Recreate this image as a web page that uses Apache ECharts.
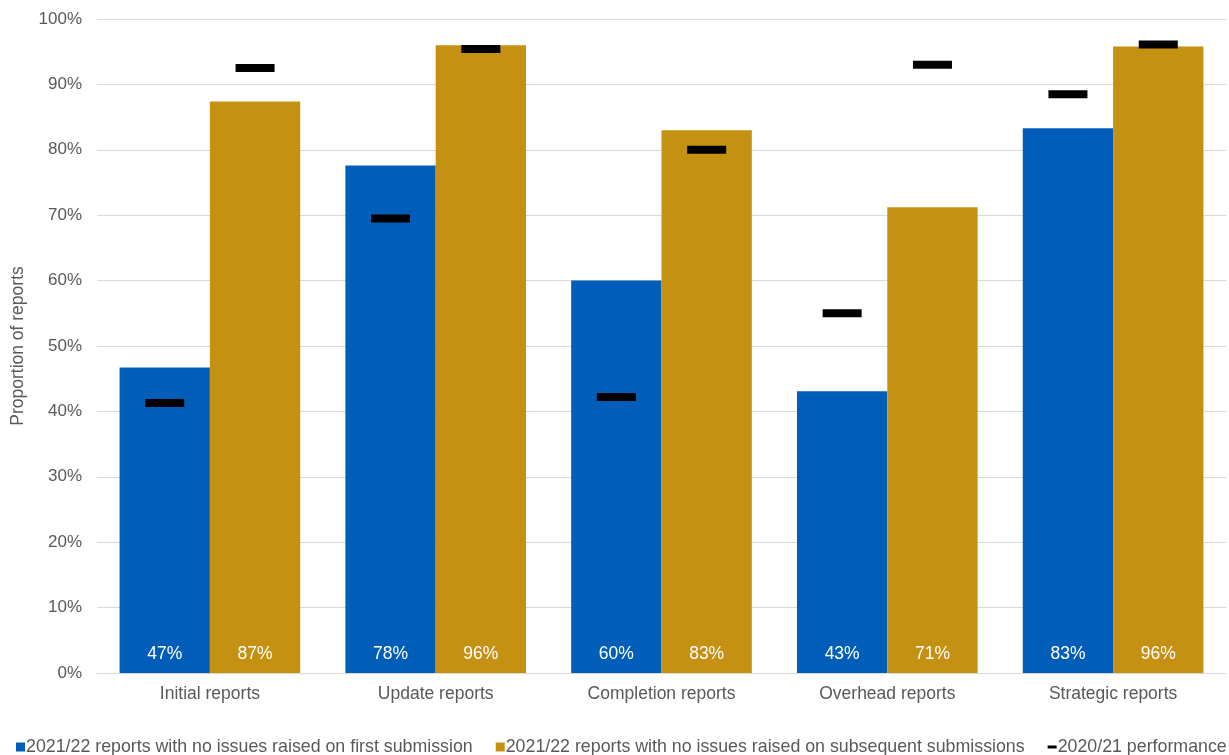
<!DOCTYPE html>
<html>
<head>
<meta charset="utf-8">
<script src="https://cdn.jsdelivr.net/npm/echarts@6/dist/echarts.min.js"></script>
<style>
html,body{margin:0;padding:0;background:#fff;}
#chart{width:1229px;height:755px;}
</style>
</head>
<body>
<div id="chart"></div>
<script>
var categories = ['Initial reports', 'Update reports', 'Completion reports', 'Overhead reports', 'Strategic reports'];
var firstSubmission = [46.7, 77.6, 60.0, 43.1, 83.3];
var subsequentSubmissions = [87.4, 96.0, 83.0, 71.2, 95.8];
var perf2020First = [41.3, 69.5, 42.2, 55.0, 88.5];
var perf2020Subsequent = [92.5, 95.4, 80.0, 93.0, 96.1];
var yTicks = [0, 10, 20, 30, 40, 50, 60, 70, 80, 90, 100];

var seriesNames = [
  '2021/22 reports with no issues raised on first submission',
  '2021/22 reports with no issues raised on subsequent submissions',
  '2020/21 performance'
];

var BLUE = '#005EB8', GOLD = '#C49113', GREY = '#595959';
var CAT_GAP = 0.2;
var FONT = 'Liberation Sans, Arial, sans-serif';

var chart = echarts.init(document.getElementById('chart'), null, {renderer: 'canvas'});

var perfData = categories.map(function (c, i) { return [i, perf2020First[i], perf2020Subsequent[i]]; });

var labelOpt = {
  show: true,
  position: 'insideBottom',
  distance: 10,
  color: '#fff',
  fontSize: 17.5,
  fontFamily: FONT,
  formatter: function (p) { return Math.round(p.value) + '%'; }
};

chart.setOption({
  animation: false,
  textStyle: {fontFamily: FONT},
  grid: {left: 97, right: 3, top: 19, bottom: 82, containLabel: false},
  legend: {
    left: 16,
    top: 738,
    padding: 0,
    itemWidth: 9,
    itemHeight: 9,
    itemGap: 23,
    symbolKeepAspect: true,
    textStyle: {color: GREY, fontSize: 17.8, fontFamily: FONT, padding: [0, 0, 0, -4]},
    data: [
      {name: seriesNames[0], icon: 'rect', itemStyle: {color: BLUE}},
      {name: seriesNames[1], icon: 'rect', itemStyle: {color: GOLD}},
      {name: seriesNames[2], icon: 'path://M0,0h12v4h-12z', itemStyle: {color: '#000'}}
    ]
  },
  xAxis: {
    type: 'category',
    data: categories,
    axisLine: {lineStyle: {color: '#d9d9d9', width: 1}},
    axisTick: {show: false},
    axisLabel: {color: GREY, fontSize: 17.5, margin: 12}
  },
  yAxis: {
    type: 'value',
    min: yTicks[0],
    max: yTicks[yTicks.length - 1],
    interval: 10,
    name: 'Proportion of reports',
    nameLocation: 'middle',
    nameGap: 68,
    nameTextStyle: {color: GREY, fontSize: 17.5},
    axisLine: {show: false},
    axisTick: {show: false},
    axisLabel: {color: GREY, fontSize: 17, margin: 15, formatter: '{value}%'},
    splitLine: {lineStyle: {color: '#d9d9d9', width: 1}}
  },
  series: [
    {
      name: seriesNames[0],
      type: 'bar',
      data: firstSubmission,
      barGap: '0%',
      barCategoryGap: (CAT_GAP * 100) + '%',
      itemStyle: {color: BLUE},
      label: labelOpt,
      z: 2
    },
    {
      name: seriesNames[1],
      type: 'bar',
      data: subsequentSubmissions,
      barGap: '0%',
      barCategoryGap: (CAT_GAP * 100) + '%',
      itemStyle: {color: GOLD},
      label: labelOpt,
      z: 2
    },
    {
      name: seriesNames[2],
      type: 'custom',
      data: perfData,
      z: 5,
      encode: {x: 0, y: [1, 2]},
      renderItem: function (params, api) {
        var band = api.size([1, 0])[0];
        var off = band * (1 - CAT_GAP) / 4;
        var cx = api.coord([api.value(0), 0])[0];
        var p1 = api.coord([api.value(0), api.value(1)]);
        var p2 = api.coord([api.value(0), api.value(2)]);
        var w = 39, h = 8;
        return {
          type: 'group',
          children: [
            {type: 'rect', shape: {x: cx - off - w / 2, y: p1[1] - h / 2, width: w, height: h}, style: {fill: '#000'}},
            {type: 'rect', shape: {x: cx + off - w / 2, y: p2[1] - h / 2, width: w, height: h}, style: {fill: '#000'}}
          ]
        };
      },
      itemStyle: {color: '#000'}
    }
  ]
});
</script>
</body>
</html>
